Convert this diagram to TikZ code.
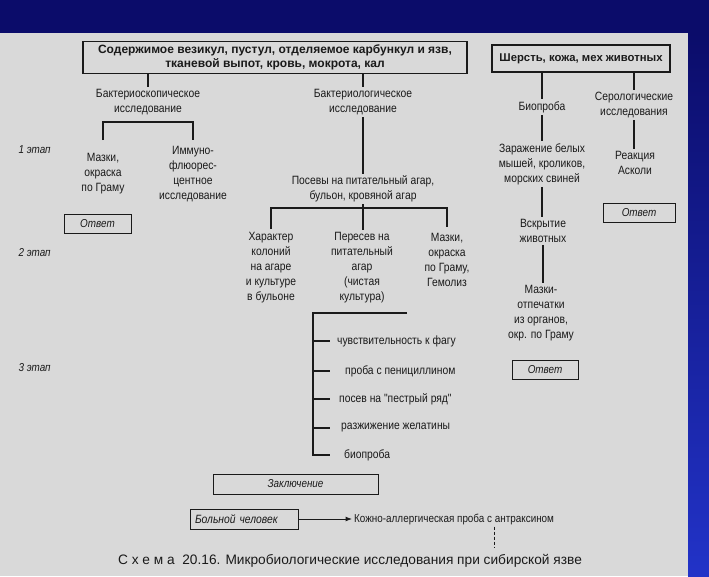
\documentclass[tikz,border=0pt]{standalone}
\usepackage{fontspec}
\setmainfont{Liberation Sans}
\newfontfamily\narrowfont{Liberation Sans}[FakeStretch=0.86]
\usetikzlibrary{arrows.meta,positioning}
\definecolor{SlideNavy}{HTML}{0B0C6A}
\definecolor{SlideBlue}{HTML}{2233C8}
\definecolor{PaperGray}{HTML}{D9D9D9}
\definecolor{InkGray}{HTML}{1A1A1A}

\begin{document}
\begin{tikzpicture}[x=1pt,y=-1pt,
  srcbox/.style={rectangle,draw=InkGray,line width=1.2pt,align=center,text=InkGray,font=\fontsize{12}{14}\selectfont\bfseries},
  lbl/.style={align=center,text=InkGray,inner sep=2pt,font=\narrowfont\fontsize{12}{15}\selectfont},
  item/.style={anchor=west,text=InkGray,inner sep=2pt,font=\narrowfont\fontsize{12}{15}\selectfont},
  answer/.style={rectangle,draw=InkGray,line width=1pt,text=InkGray,minimum height=19pt,font=\narrowfont\fontsize{11.5}{13}\selectfont\itshape},
  stagelbl/.style={anchor=west,text=InkGray,font=\narrowfont\fontsize{11.5}{13}\selectfont\itshape},
  wire/.style={draw=InkGray,line width=1.2pt},
  arrow/.style={-{Latex[length=2.2mm]},draw=InkGray,line width=0.8pt}
]
\useasboundingbox (0,0) rectangle (709,576);
% slide and scanned page
\fill[SlideNavy] (0,0) rectangle (709,576);
\shade[top color=SlideNavy,bottom color=SlideBlue] (688,33) rectangle (709,576);
\fill[PaperGray] (0,33) rectangle (688,576);

% sources
\node[srcbox,minimum width=384pt,minimum height=31pt] (src) at (275,57.5) {Содержимое везикул, пустул, отделяемое карбункул и язв,\\тканевой выпот, кровь, мокрота, кал};
\node[srcbox,minimum width=178pt,minimum height=27pt,font=\fontsize{11.3}{14}\selectfont\bfseries] (fur) at (581,58.5) {Шерсть, кожа, мех животных};

% stages
\node[stagelbl] (st1) at (15,150) {1 этап};
\node[stagelbl] (st2) at (15,253) {2 этап};
\node[stagelbl] (st3) at (15,368) {3 этап};

% bacterioscopy
\node[lbl] (bscop) at (148,102) {Бактериоскопическое\\исследование};
\node[lbl] (smear) at (103,174) {Мазки,\\окраска\\по Граму};
\node[lbl] (immuno) at (193,174) {Иммуно-\\флюорес-\\центное\\исследование};
\node[answer,minimum width=67pt] (ans1) at (97.5,224) {Ответ};

% bacteriology
\node[lbl] (blog) at (363,102) {Бактериологическое\\исследование};
\node[lbl] (posev) at (363,189) {Посевы на питательный агар,\\бульон, кровяной агар};
\node[lbl] (colony) at (271,268) {Характер\\колоний\\на агаре\\и культуре\\в бульоне};
\node[lbl] (reseed) at (362,268) {Пересев на\\питательный\\агар\\(чистая\\культура)};
\node[lbl] (smear2) at (447,260) {Мазки,\\окраска\\по Граму,\\Гемолиз};
\node[item] (phage) at (335,341) {чувствительность к фагу};
\node[item] (penic) at (343,371) {проба с пенициллином};
\node[item] (motley) at (337,399) {посев на "пестрый ряд"};
\node[item] (gelat) at (339,428) {разжижение желатины};
\node[item] (bioassay) at (342,455) {биопроба};
\coordinate (railtop) at (313,313);
\coordinate (railend) at (407,313);
\coordinate (railfoot) at (313,456);
\coordinate (ticktip) at (330,313);

% animal material
\node[lbl] (bio) at (542,107) {Биопроба};
\node[lbl] (sero) at (634,105) {Серологические\\исследования};
\node[lbl] (infect) at (542,164) {Заражение белых\\мышей, кроликов,\\морских свиней};
\node[lbl] (ascoli) at (635,163) {Реакция\\Асколи};
\node[answer,minimum width=72pt] (ans2) at (639,212.5) {Ответ};
\node[lbl] (autopsy) at (543,231) {Вскрытие\\животных};
\node[lbl] (imprint) at (541,313) {Мазки-\\отпечатки\\из органов,\\окр. по Граму};
\node[answer,minimum width=66pt] (ans3) at (545,369.5) {Ответ};

% conclusion
\node[answer,minimum width=165pt,minimum height=20pt] (concl) at (295.5,484) {Заключение};
\node[answer,minimum width=108pt,minimum height=20pt,text width=98pt,align=left,font=\narrowfont\fontsize{12}{13}\selectfont\itshape] (patient) at (244,519) {Больной человек};
\node[item,font=\narrowfont\fontsize{11.5}{14}\selectfont] (skin) at (352,519) {Кожно-аллергическая проба с антраксином};
\coordinate (skintail) at (494,547);
\node[font=\fontsize{13.7}{16}\selectfont,text=InkGray] (caption) at (350,561) {С х е м а\ \ 20.16. Микробиологические исследования при сибирской язве};

\draw[wire] (src.south -| bscop.north) -- (bscop.north);
\draw[wire] (src.south -| blog.north) -- (blog.north);
\draw[wire] (fur.south -| bio.north) -- (bio.north);
\draw[wire] (fur.south -| sero.north) -- (sero.north);
\draw[wire] (smear.north |- 0,140) -- (smear.north |- 0,122) -- (immuno.north |- 0,122) -- (immuno.north |- 0,140);
\draw[wire] (blog.south) -- (posev.north);
\draw[wire] (colony.north |- 0,229) |- (smear2.north |- 0,208) -- (smear2.north |- 0,227);
\draw[wire] (posev.south) -- (posev.south |- reseed.north);
\draw[wire] (railend) -- (railtop) -- (railfoot);
\draw[wire] (railtop |- phage) -- (ticktip |- phage);
\draw[wire] (railtop |- penic) -- (ticktip |- penic);
\draw[wire] (railtop |- motley) -- (ticktip |- motley);
\draw[wire] (railtop |- gelat) -- (ticktip |- gelat);
\draw[wire] (railtop |- bioassay) -- (ticktip |- bioassay);
\draw[wire] (bio.south) -- (bio.south |- infect.north);
\draw[wire] (sero.south) -- (sero.south |- ascoli.north);
\draw[wire] (infect.south) -- (infect.south |- autopsy.north);
\draw[wire] (autopsy.south) -- (autopsy.south |- imprint.north);
\draw[arrow] (patient) -- (skin);
\draw[draw=InkGray,densely dashed,line width=0.6pt] (skin.south -| skintail) -- (skintail);
\end{tikzpicture}
\end{document}
